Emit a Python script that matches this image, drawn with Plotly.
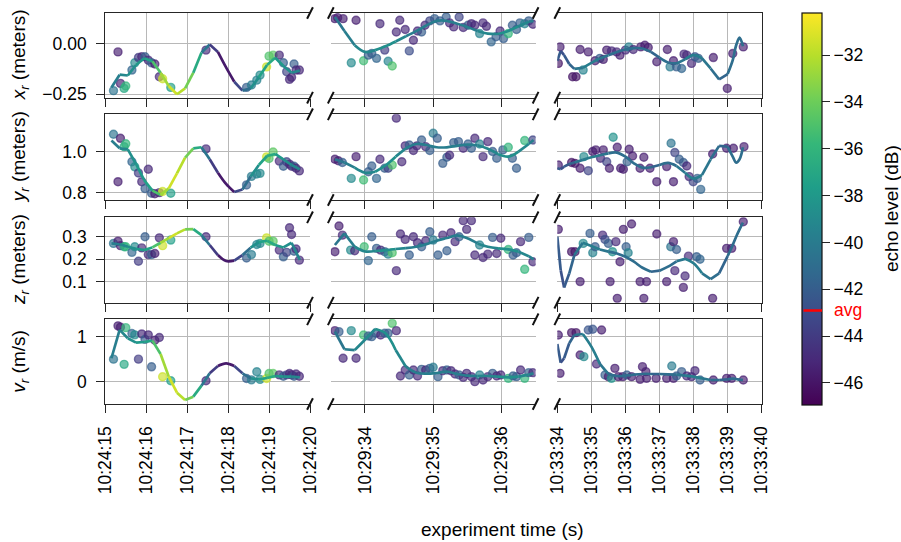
import plotly.graph_objects as go
from plotly.colors import sample_colorscale

# ------------------------------------------------------------------ data
ECHO_MIN = -46.94
ECHO_MAX = -30.2
ECHO_AVG = -42.9
cb_ticks = [-46, -44, -42, -40, -38, -36, -34, -32]

x_ticks_1 = [15, 16, 17, 18, 19, 20]
x_labels_1 = ["10:24:15", "10:24:16", "10:24:17", "10:24:18", "10:24:19", "10:24:20"]
x_ticks_2 = [34, 35, 36]
x_labels_2 = ["10:29:34", "10:29:35", "10:29:36"]
x_ticks_3 = [34, 35, 36, 37, 38, 39, 40]
x_labels_3 = ["10:33:34", "10:33:35", "10:33:36", "10:33:37", "10:33:38", "10:33:39", "10:33:40"]

y_ticks = [[-0.25, 0.0], [0.8, 1.0], [0.1, 0.2, 0.3], [0, 1]]
y_labels = [["\u22120.25", "0.00"], ["0.8", "1.0"], ["0.1", "0.2", "0.3"], ["0", "1"]]
y_titles = ["<i>x</i><sub><i>r</i></sub> (meters)", "<i>y</i><sub><i>r</i></sub> (meters)",
            "<i>z</i><sub><i>r</i></sub> (meters)", "<i>v</i><sub><i>r</i></sub> (m/s)"]

# --- segment 1 (10:24:xx) measurements: time (s), echo (dB), per-row values
c1_t = [15.20, 15.31, 15.37, 15.46, 15.50, 15.65, 15.72, 15.81, 15.89, 15.97, 16.05, 16.13, 16.21, 16.32, 16.40, 16.60,
        17.46, 18.45, 18.57, 18.70, 18.78, 18.94, 19.00, 19.10, 19.25, 19.35, 19.43, 19.50, 19.55, 19.61, 19.66, 19.74]
c1_e = [-40.5, -45.5, -45.5, -37, -36, -41.5, -39, -44, -45, -42, -45, -42, -45.5, -45, -31.5, -37.5,
        -45, -42, -40, -39.5, -39, -31.5, -35, -34.5, -45, -42, -43.5, -45, -45, -42, -45, -45]
x1_v = [-0.232, -0.040, -0.196, -0.221, -0.209, -0.130, -0.094, -0.068, -0.064, -0.064, -0.081, -0.094, -0.100, -0.163,
        -0.173, -0.216, -0.031, -0.216, -0.204, -0.180, -0.155, -0.114, -0.061, -0.056, -0.056, -0.094, -0.138, -0.176,
        -0.166, -0.100, -0.130, -0.130]
y1_v = [1.087, 0.854, 1.067, 1.026, 1.040, 0.952, 0.927, 0.897, 0.854, 0.820, 0.915, 0.797, 0.795, 0.800, 0.806, 0.797,
        1.015, 0.838, 0.880, 0.892, 0.895, 0.976, 0.968, 1.000, 0.955, 0.930, 0.952, 0.940, 0.930, 0.930, 0.920, 0.907]
z1_v = [0.270, 0.280, 0.260, 0.255, 0.255, 0.230, 0.255, 0.190, 0.250, 0.300, 0.220, 0.220, 0.225, 0.295, 0.260, 0.285,
        0.300, 0.205, 0.220, 0.265, 0.270, 0.295, 0.280, 0.280, 0.240, 0.210, 0.230, 0.340, 0.310, 0.235, 0.245, 0.195]
v1_v = [0.50, 1.24, 1.21, 0.385, 1.20, 1.07, 1.04, 0.50, 1.06, 0.94, 1.04, 0.33, 0.92, 0.98, 0.11, 0.02,
        0.02, 0.07, 0.04, 0.22, 0.05, 0.07, 0.18, 0.18, 0.15, 0.12, 0.15, 0.18, 0.15, 0.12, 0.17, 0.12]

# --- segment 2 (10:29:xx)
x2_t = [33.56, 33.60, 33.68, 33.87, 33.80, 33.98, 34.05, 34.10, 34.17, 34.22, 34.29, 34.34, 34.40, 34.46, 34.51, 34.59,
        34.65, 34.71, 34.77, 34.83, 34.88, 34.95, 35.02, 35.10, 35.19, 35.24, 35.30, 35.38, 35.44, 35.51, 35.56, 35.61,
        35.68, 35.73, 35.78, 35.85, 35.92, 35.98, 36.03, 36.10, 36.16, 36.22, 36.27, 36.34, 36.40, 36.46]
x2_v = [0.125, 0.130, 0.125, 0.117, -0.094, -0.084, -0.056, -0.048, -0.072, 0.100, -0.031, -0.086, -0.110, 0.059, 0.117,
        0.071, -0.035, 0.018, 0.064, 0.059, 0.092, 0.114, 0.125, 0.114, 0.133, 0.104, 0.084, 0.133, 0.081, 0.092, 0.100,
        0.092, 0.051, 0.104, 0.087, 0.010, 0.035, 0.064, 0.026, 0.051, 0.092, 0.071, 0.104, 0.100, 0.114, 0.097]
x2_e = [-45.5, -45.5, -45.5, -45.5, -39, -35.5, -42, -42, -41.5, -45, -44, -39.5, -35, -45, -45, -45, -43, -45, -45, -42,
        -45, -43.5, -42, -42, -42, -45, -45, -43.5, -45, -42, -45, -45, -39.5, -45, -45, -41.5, -42, -45, -42, -36, -42,
        -42, -42, -39.5, -42, -45]
y2_t = [33.56, 33.61, 33.67, 33.80, 33.87, 33.98, 34.05, 34.10, 34.17, 34.22, 34.29, 34.34, 34.40, 34.46, 34.54, 34.59,
        34.65, 34.71, 34.76, 34.83, 34.89, 34.95, 35.00, 35.06, 35.14, 35.20, 35.24, 35.30, 35.37, 35.44, 35.51, 35.56,
        35.61, 35.68, 35.73, 35.80, 35.87, 35.93, 36.02, 36.10, 36.16, 36.22, 36.34, 36.46]
y2_v = [0.964, 0.957, 0.948, 0.870, 0.977, 0.862, 0.903, 0.931, 0.870, 0.964, 0.920, 0.920, 0.936, 1.166, 0.952, 1.030,
        1.034, 1.007, 1.030, 1.059, 1.026, 1.007, 1.092, 1.067, 0.944, 0.974, 0.984, 1.046, 1.051, 1.018, 1.039, 1.018,
        1.067, 1.039, 0.977, 1.051, 1.002, 0.969, 1.010, 1.023, 0.969, 0.920, 1.056, 1.059]
y2_e = [-45.5, -45.5, -42, -39, -45.5, -35.5, -42, -42, -41.5, -45, -42, -43.5, -35, -45, -45, -45, -42, -45, -45, -42,
        -45, -42, -40, -42, -42, -42, -45, -42, -42, -45, -42, -42, -45, -39.5, -45, -45, -42, -42, -42, -36, -42, -42,
        -36, -43.5]
z2_t = [33.56, 33.62, 33.67, 33.79, 33.85, 33.99, 34.05, 34.10, 34.17, 34.23, 34.29, 34.34, 34.40, 34.46, 34.52, 34.59,
        34.65, 34.71, 34.77, 34.83, 34.89, 34.95, 35.00, 35.07, 35.14, 35.20, 35.26, 35.32, 35.38, 35.44, 35.49, 35.56,
        35.61, 35.68, 35.73, 35.80, 35.87, 35.93, 35.99, 36.10, 36.17, 36.22, 36.28, 36.34, 36.40, 36.46]
z2_v = [0.233, 0.348, 0.307, 0.240, 0.237, 0.255, 0.193, 0.300, 0.248, 0.240, 0.233, 0.222, 0.228, 0.148, 0.312, 0.288,
        0.218, 0.300, 0.273, 0.255, 0.282, 0.322, 0.285, 0.218, 0.307, 0.237, 0.318, 0.278, 0.300, 0.372, 0.333, 0.372,
        0.218, 0.263, 0.207, 0.222, 0.297, 0.225, 0.293, 0.243, 0.218, 0.228, 0.278, 0.154, 0.297, 0.188]
z2_e = [-45.5, -45.5, -45, -39, -45, -35.5, -41.5, -42, -42, -45, -42, -39.5, -35, -45, -45, -45, -42, -45, -45, -42,
        -45, -42, -40, -42, -45, -42, -45, -45, -42, -45, -45, -45, -45, -39.5, -45, -45, -42, -45, -45, -36, -42, -42,
        -45, -36, -42, -45]
v2_t = [33.56, 33.62, 33.68, 33.80, 33.87, 33.98, 34.05, 34.10, 34.16, 34.23, 34.29, 34.34, 34.40, 34.46, 34.52, 34.59,
        34.65, 34.71, 34.77, 34.83, 34.89, 34.95, 35.00, 35.07, 35.14, 35.20, 35.26, 35.32, 35.38, 35.44, 35.49, 35.56,
        35.61, 35.68, 35.73, 35.80, 35.87, 35.93, 35.99, 36.10, 36.17, 36.22, 36.28, 36.34, 36.40, 36.46]
v2_v = [1.133, 1.111, 0.519, 1.133, 0.519, 1.037, 1.015, 1.000, 1.074, 1.037, 1.074, 1.074, 1.296, 1.133, 0.126, 0.259,
        0.148, 0.259, 0.126, 0.274, 0.259, 0.296, 0.319, 0.111, 0.244, 0.259, 0.244, 0.170, 0.148, 0.096, 0.185, 0.111,
        0.000, 0.148, 0.037, 0.111, 0.185, 0.126, 0.148, 0.074, 0.126, 0.111, 0.259, 0.074, 0.200, 0.200]
v2_e = [-45.5, -42, -45, -39, -45, -35.5, -42, -42, -42, -45, -42, -42, -35, -45, -45, -45, -42, -45, -45, -42,
        -45, -42, -40, -42, -45, -42, -45, -45, -42, -45, -45, -45, -45, -39.5, -45, -45, -42, -45, -45, -36, -42, -42,
        -45, -36, -42, -45]

# --- segment 3 (10:33:xx)
x3_t = [34.03, 34.08, 34.45, 34.55, 34.67, 34.76, 34.91, 35.11, 35.25, 35.35, 35.45, 35.59, 35.74, 35.84, 36.00, 36.10,
        36.23, 36.45, 36.57, 36.67, 36.92, 37.23, 37.31, 37.41, 37.50, 37.65, 37.72, 37.80, 37.94, 38.04, 38.14, 38.58,
        38.99, 39.15, 39.46]
x3_v = [-0.097, -0.015, -0.163, -0.163, -0.028, -0.130, -0.040, -0.084, -0.072, -0.077, -0.031, -0.035, -0.040, -0.056,
        -0.031, -0.015, -0.028, -0.015, -0.007, -0.018, -0.089, -0.028, -0.114, -0.084, -0.114, -0.122, -0.051, -0.056,
        -0.097, -0.064, -0.072, -0.068, -0.221, -0.048, -0.015]
x3_e = [-46, -45.5, -46, -46, -45.5, -39.5, -45.5, -45.5, -42, -45.5, -45.5, -45, -45, -45.5, -45, -39.5, -45, -45.5,
        -45.5, -45.5, -45.5, -45.5, -40, -45.5, -42, -41.5, -45, -45, -45, -42.5, -42, -45.5, -45.5, -45.5, -45.5]
y3_t = [34.03, 34.42, 34.52, 34.67, 34.78, 34.91, 35.04, 35.13, 35.27, 35.35, 35.45, 35.53, 35.64, 35.76, 35.86, 35.94,
        36.05, 36.11, 36.21, 36.43, 36.54, 36.72, 36.92, 37.21, 37.34, 37.41, 37.45, 37.58, 37.70, 37.80, 37.87, 37.99,
        38.11, 38.21, 38.56, 38.97, 39.17, 39.48]
y3_v = [0.936, 0.948, 0.944, 0.920, 0.977, 0.908, 1.002, 1.010, 0.969, 1.010, 0.952, 0.920, 1.072, 1.023, 0.920, 0.915,
        0.952, 1.013, 0.980, 0.920, 0.974, 0.920, 0.854, 0.928, 1.043, 0.854, 0.997, 0.964, 0.948, 0.931, 0.879, 0.854,
        0.870, 0.816, 0.990, 1.018, 1.018, 1.026]
y3_e = [-45.5, -46, -46, -45.5, -39, -43.5, -45.5, -45.5, -45, -45.5, -43.5, -45.5, -38.5, -45.5, -45.5, -45.5, -42,
        -45.5, -45.5, -45.5, -45.5, -45.5, -45.5, -45.5, -40.5, -45.5, -43.5, -42, -42, -45, -45, -43.5, -42, -41.5,
        -45.5, -45.5, -45.5, -45.5]
z3_t = [34.03, 34.42, 34.52, 34.67, 34.76, 34.96, 35.04, 35.11, 35.33, 35.40, 35.50, 35.55, 35.62, 35.72, 35.76, 35.84,
        35.94, 36.02, 36.08, 36.18, 36.43, 36.54, 36.62, 36.92, 37.21, 37.33, 37.41, 37.45, 37.50, 37.70, 37.75, 37.85,
        38.09, 38.19, 38.56, 38.97, 39.12, 39.46]
z3_v = [0.333, 0.233, 0.233, 0.099, 0.270, 0.315, 0.228, 0.255, 0.307, 0.288, 0.270, 0.099, 0.233, 0.278, 0.024, 0.188,
        0.333, 0.255, 0.228, 0.357, 0.099, 0.024, 0.099, 0.312, 0.099, 0.255, 0.278, 0.148, 0.243, 0.073, 0.124, 0.213,
        0.210, 0.199, 0.024, 0.248, 0.248, 0.367]
z3_e = [-45.5, -46, -46, -45.5, -39, -42, -39.5, -42, -45, -43, -42, -45.5, -38.5, -45, -45.5, -45.5, -45.5, -42, -39.5,
        -45.5, -45.5, -45.5, -45.5, -45.5, -45.5, -40.5, -45.5, -45, -42, -45.5, -45, -45, -42, -41.5, -45.5, -45.5,
        -45.5, -45.5]
v3_t = [34.03, 34.08, 34.42, 34.55, 34.67, 34.78, 34.91, 35.04, 35.15, 35.30, 35.40, 35.50, 35.59, 35.69, 35.79, 35.92,
        36.04, 36.18, 36.43, 36.50, 36.60, 36.62, 36.90, 37.21, 37.36, 37.41, 37.50, 37.65, 37.80, 37.94, 38.04, 38.19,
        38.58, 38.97, 39.12, 39.46]
v3_v = [1.037, 0.185, 1.089, 1.089, 0.593, 0.556, 1.148, 1.163, 0.393, 1.148, 0.148, 0.111, 0.074, 0.296, 0.111, 0.111,
        0.148, 0.111, 0.052, 0.333, 0.222, 0.074, 0.074, 0.074, 0.348, 0.074, 0.126, 0.222, 0.126, 0.111, 0.244, 0.037,
        0.037, 0.074, 0.074, 0.037]
v3_e = [-45.5, -45.5, -46, -46, -45.5, -39, -42.5, -42.5, -45, -45.5, -42, -45.5, -38.5, -45.5, -45.5, -45.5, -42,
        -45.5, -45.5, -45.5, -45.5, -45.5, -45.5, -45.5, -40, -45.5, -42, -42, -45, -45, -45, -42, -45.5, -45.5, -45.5,
        -45.5]

# --- smoothed tracks (time, smoothed echo, per-row values)
k1_t = [15.15, 15.35, 15.55, 15.75, 15.95, 16.15, 16.35, 16.55, 16.75, 16.95, 17.15, 17.35, 17.55, 17.75, 17.95, 18.15,
        18.35, 18.55, 18.75, 18.95, 19.15, 19.35, 19.55, 19.75]
k1_e = [-40, -39.5, -39, -38.5, -38, -36.5, -33.5, -31.5, -31, -32.5, -35.5, -38.5, -42, -45.5, -46, -45, -42, -39.5,
        -38, -37, -37, -38.5, -39, -39]
kx1 = [-0.216, -0.153, -0.157, -0.105, -0.071, -0.086, -0.143, -0.209, -0.250, -0.221, -0.143, -0.043, -0.003, -0.040,
       -0.117, -0.188, -0.232, -0.221, -0.166, -0.105, -0.069, -0.110, -0.143, -0.133]
ky1 = [1.056, 1.018, 1.013, 0.941, 0.862, 0.810, 0.789, 0.821, 0.895, 0.972, 1.018, 1.023, 0.964, 0.898, 0.843, 0.803,
       0.816, 0.879, 0.936, 0.980, 0.990, 0.964, 0.936, 0.915]
kz1 = [0.270, 0.266, 0.255, 0.246, 0.240, 0.252, 0.273, 0.294, 0.315, 0.333, 0.334, 0.307, 0.263, 0.218, 0.191, 0.193,
       0.218, 0.251, 0.276, 0.282, 0.263, 0.252, 0.273, 0.196]
kv1 = [0.52, 1.15, 0.963, 0.867, 0.881, 0.911, 0.615, 0.111, -0.244, -0.407, -0.333, -0.089, 0.185, 0.348, 0.407, 0.348,
       0.185, 0.074, 0.052, 0.081, 0.126, 0.111, 0.111, 0.096]

k2_t = [33.56, 33.70, 33.85, 34.00, 34.15, 34.30, 34.45, 34.60, 34.75, 34.90, 35.05, 35.20, 35.35, 35.50, 35.65, 35.80,
        35.95, 36.10, 36.25, 36.40, 36.47]
k2_e = [-40.5, -40, -39.5, -39, -39, -38.5, -39, -39.5, -39.5, -39.5, -39.5, -39.5, -39.5, -39.5, -39.5, -39, -39,
        -38.5, -39, -39.5, -39.5]
kx2 = [0.133, 0.064, -0.007, -0.040, -0.031, -0.012, 0.012, 0.038, 0.063, 0.091, 0.114, 0.114, 0.100, 0.084, 0.064,
       0.051, 0.049, 0.064, 0.087, 0.110, 0.114]
ky2 = [0.964, 0.948, 0.923, 0.898, 0.903, 0.934, 0.977, 1.018, 1.039, 1.034, 1.023, 1.023, 1.030, 1.036, 1.033, 1.016,
       0.990, 0.977, 1.002, 1.039, 1.059]
kz2 = [0.263, 0.315, 0.255, 0.234, 0.236, 0.240, 0.245, 0.249, 0.255, 0.267, 0.282, 0.294, 0.306, 0.293, 0.270, 0.255,
       0.248, 0.243, 0.233, 0.213, 0.199]
kv2 = [1.111, 0.720, 0.700, 0.930, 1.170, 1.074, 0.704, 0.333, 0.200, 0.178, 0.193, 0.222, 0.170, 0.133, 0.126, 0.126,
       0.111, 0.096, 0.111, 0.156, 0.185]

k3_t = [34.0, 34.1, 34.2, 34.35, 34.5, 34.75, 35.0, 35.25, 35.5, 35.75, 36.0, 36.25, 36.5, 36.75, 37.0, 37.25, 37.5,
        37.75, 38.0, 38.25, 38.5, 38.75, 39.0, 39.15, 39.25, 39.35, 39.45]
k3_e = [-42.0, -42.5, -42.5, -42, -41, -39.5, -39.5, -40, -40.5, -41, -41, -41, -41, -41.5, -41.5, -41, -40.5, -40,
        -39.5, -40, -41, -41.5, -41.5, -41, -41, -41, -40.5]
kx3 = [-0.084, -0.035, -0.056, -0.100, -0.124, -0.119, -0.094, -0.072, -0.056, -0.040, -0.028, -0.021, -0.023, -0.040,
       -0.068, -0.092, -0.097, -0.077, -0.056, -0.072, -0.122, -0.176, -0.150, -0.081, -0.007, 0.031, -0.012]
ky3 = [0.920, 0.915, 0.928, 0.941, 0.948, 0.961, 0.974, 0.984, 0.993, 0.997, 0.977, 0.944, 0.923, 0.925, 0.936, 0.946,
       0.931, 0.898, 0.869, 0.887, 0.964, 1.030, 1.026, 0.977, 0.948, 0.964, 1.023]
kz3 = [0.300, 0.150, 0.073, 0.135, 0.218, 0.273, 0.258, 0.243, 0.233, 0.225, 0.210, 0.188, 0.161, 0.143, 0.148, 0.166,
       0.190, 0.201, 0.181, 0.136, 0.110, 0.136, 0.213, 0.263, 0.300, 0.333, 0.363]
kv3 = [0.837, 0.422, 0.520, 0.852, 1.037, 1.059, 0.778, 0.393, 0.170, 0.126, 0.133, 0.156, 0.170, 0.170, 0.170, 0.163,
       0.156, 0.133, 0.111, 0.074, 0.037, 0.037, 0.052, 0.067, 0.059, 0.044, 0.037]

# ------------------------------------------------------------------ assemble panel tables
scatter_tbl = [
    [(c1_t, x1_v, c1_e), (x2_t, x2_v, x2_e), (x3_t, x3_v, x3_e)],
    [(c1_t, y1_v, c1_e), (y2_t, y2_v, y2_e), (y3_t, y3_v, y3_e)],
    [(c1_t, z1_v, c1_e), (z2_t, z2_v, z2_e), (z3_t, z3_v, z3_e)],
    [(c1_t, v1_v, c1_e), (v2_t, v2_v, v2_e), (v3_t, v3_v, v3_e)],
]
curve_tbl = [
    [(k1_t, kx1, k1_e), (k2_t, kx2, k2_e), (k3_t, kx3, k3_e)],
    [(k1_t, ky1, k1_e), (k2_t, ky2, k2_e), (k3_t, ky3, k3_e)],
    [(k1_t, kz1, k1_e), (k2_t, kz2, k2_e), (k3_t, kz3, k3_e)],
    [(k1_t, kv1, k1_e), (k2_t, kv2, k2_e), (k3_t, kv3, k3_e)],
]
x_ticks = [x_ticks_1, x_ticks_2, x_ticks_3]
x_labels = [x_labels_1, x_labels_2, x_labels_3]

# ------------------------------------------------------------------ styling / layout
W, H = 901, 542
FONT = "Liberation Sans, Arial, Helvetica, sans-serif"
AX = "#262626"
GRID = "#b8b8b8"
TICKF = 17.5
TITLEF = 19
XDOM = [[105.3 / W, 310.0 / W], [330.8 / W, 535.6 / W], [557.3 / W, 761.7 / W]]
YPX = [[13.0, 97.7], [114.3, 200.0], [217.3, 302.7], [319.3, 404.0]]
YDOM = [[1 - b / H, 1 - t / H] for t, b in YPX]
XRANGES = [[15, 20], [33.5, 36.5], [34, 40]]
YRANGES = [[-0.267, 0.153], [0.764, 1.185], [0.0045, 0.387], [-0.496, 1.385]]


def norm(e):
    return min(max((e - ECHO_MIN) / (ECHO_MAX - ECHO_MIN), 0.0), 1.0)


def rgba(rgb, a):
    return rgb.replace("rgb(", "rgba(").replace(")", ", %s)" % a)


fig = go.Figure()


def names(r, c):
    n = r * 3 + c + 1
    s = "" if n == 1 else str(n)
    return "x" + s, "y" + s, "xaxis" + s, "yaxis" + s


NB = 28
for r in range(4):
    for c in range(3):
        xa, ya, xk, yk = names(r, c)
        t, v, e = scatter_tbl[r][c]
        cols = sample_colorscale("Viridis", [norm(q) for q in e])
        fig.add_trace(go.Scatter(
            x=t, y=v, mode="markers", xaxis=xa, yaxis=ya, showlegend=False, hoverinfo="skip",
            marker=dict(size=8, color=[rgba(q, 0.66) for q in cols],
                        line=dict(width=1.4, color=[rgba(q, 0.66) for q in cols]))))
        # smoothed track coloured by echo level
        kt, kv, ke = curve_tbl[r][c]
        bins = [round(norm((ke[i] + ke[i + 1]) / 2) * NB) for i in range(len(kt) - 1)]
        start = 0
        for i in range(1, len(bins) + 1):
            if i == len(bins) or bins[i] != bins[start]:
                col = sample_colorscale("Viridis", [bins[start] / NB])[0]
                fig.add_trace(go.Scatter(
                    x=kt[start:i + 1], y=kv[start:i + 1], mode="lines", xaxis=xa, yaxis=ya,
                    showlegend=False, hoverinfo="skip",
                    line=dict(color=col, width=2.7, shape="spline", smoothing=1.0)))
                start = i

        fig.layout[xk] = dict(
            domain=XDOM[c], range=XRANGES[c], anchor=ya, tickmode="array", tickvals=x_ticks[c],
            ticktext=x_labels[c], showticklabels=(r == 3), tickangle=-90, ticks="outside",
            ticklen=8, tickwidth=1.3, tickcolor=AX, showline=True, linecolor=AX, linewidth=1.3,
            mirror=True, showgrid=True, gridcolor=GRID, gridwidth=1, zeroline=False,
            tickfont=dict(size=TICKF, family=FONT, color="#000"), ticklabelstandoff=6)
        yax = dict(
            domain=YDOM[r], range=YRANGES[r], anchor=xa, tickmode="array", tickvals=y_ticks[r],
            ticktext=y_labels[r], showgrid=True, gridcolor=GRID, gridwidth=1, zeroline=False,
            tickfont=dict(size=TICKF, family=FONT, color="#000"))
        if c == 0:
            yax.update(showline=True, linecolor=AX, linewidth=1.3, ticks="outside", ticklen=8,
                       tickwidth=1.3, tickcolor=AX, showticklabels=True, ticklabelstandoff=6)
        elif c == 1:
            yax.update(showline=False, ticks="", showticklabels=False)
        else:
            yax.update(side="right", showline=True, linecolor=AX, linewidth=1.3, ticks="",
                       showticklabels=False)
        fig.layout[yk] = yax

# colour bar (via a hidden carrier trace)
CB_X0 = 802.0 / W
CB_T, CB_B = 13.0, 405.0
CB_LEN = (CB_B - CB_T) / H
CB_YC = 1 - (CB_T + CB_B) / 2 / H
fig.add_trace(go.Scatter(
    x=[None], y=[None], mode="markers", xaxis="x", yaxis="y", showlegend=False, hoverinfo="skip",
    marker=dict(color=[ECHO_MIN], cmin=ECHO_MIN, cmax=ECHO_MAX, colorscale="Viridis", showscale=True,
                colorbar=dict(x=CB_X0, xanchor="left", y=CB_YC, yanchor="middle", len=CB_LEN,
                              lenmode="fraction", thickness=20, thicknessmode="pixels", xpad=0, ypad=0,
                              outlinewidth=1.2, outlinecolor="#111", tickmode="array", tickvals=cb_ticks,
                              ticktext=["\u2212%d" % abs(q) for q in cb_ticks], ticks="outside",
                              ticklen=8, tickwidth=1.3, tickcolor=AX,
                              tickfont=dict(size=TICKF, family=FONT, color="#000")))))

shapes = []
# broken-axis slashes
dx, dy = 2.9 / W, 5.8 / H
for r in range(4):
    for yy in YDOM[r]:
        for xx in (XDOM[0][1], XDOM[1][0], XDOM[1][1], XDOM[2][0]):
            shapes.append(dict(type="line", xref="paper", yref="paper", x0=xx - dx, x1=xx + dx,
                               y0=yy - dy, y1=yy + dy, line=dict(color="#111", width=2)))

annotations = []
for r in range(4):
    annotations.append(dict(text=y_titles[r], xref="paper", yref="paper", x=20.0 / W,
                            y=(YDOM[r][0] + YDOM[r][1]) / 2, xanchor="center", yanchor="middle",
                            textangle=-90, showarrow=False,
                            font=dict(size=TITLEF, family=FONT, color="#000")))
annotations.append(dict(text="experiment time (s)", xref="paper", yref="paper", x=502.5 / W,
                        y=1 - 529.0 / H, xanchor="center", yanchor="middle", showarrow=False,
                        font=dict(size=TITLEF, family=FONT, color="#000")))
annotations.append(dict(text="echo level (dB)", xref="paper", yref="paper", x=891.0 / W,
                        y=CB_YC, xanchor="center", yanchor="middle", textangle=-90, showarrow=False,
                        font=dict(size=TITLEF, family=FONT, color="#000")))
# average echo marker on the colour bar (annotation arrow so it sits above the bar)
avg_y = (1 - CB_B / H) + norm(ECHO_AVG) * CB_LEN
annotations.append(dict(text="", xref="paper", yref="paper", x=CB_X0 + 20.0 / W, y=avg_y,
                        showarrow=True, arrowhead=0, arrowwidth=2.5, arrowcolor="red",
                        ax=-20, ay=0, axref="pixel", ayref="pixel", standoff=0, startstandoff=0))
annotations.append(dict(text="avg", xref="paper", yref="paper", x=832.0 / W, y=avg_y,
                        xanchor="left", yanchor="middle", showarrow=False,
                        font=dict(size=TICKF, family=FONT, color="red")))

fig.update_layout(width=W, height=H, margin=dict(l=0, r=0, t=0, b=0, autoexpand=False),
                  plot_bgcolor="white", paper_bgcolor="white", shapes=shapes, annotations=annotations,
                  font=dict(family=FONT, color="#000"))

fig.write_html("out.html", config={"displayModeBar": False},
               post_script="document.body.style.margin='0px';document.body.style.padding='0px';")
